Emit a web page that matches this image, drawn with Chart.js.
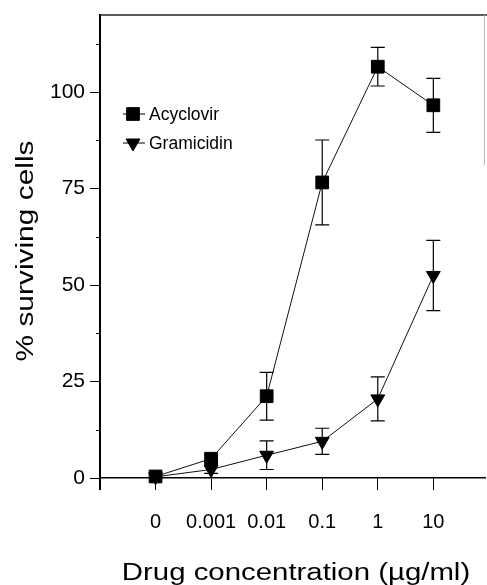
<!DOCTYPE html>
<html>
<head>
<meta charset="utf-8">
<script src="https://cdn.jsdelivr.net/npm/chart.js@4.4.1/dist/chart.umd.min.js"></script>
<style>
  html, body { margin: 0; padding: 0; background: #fff; }
  #wrap { width: 487px; height: 585px; }
</style>
</head>
<body>
<div id="wrap"><canvas id="c"></canvas></div>
<script>
// ===== data =====
const concLabels = ['0', '0.001', '0.01', '0.1', '1', '10'];
const acyclovir = [0.4, 5.0, 21.2, 76.6, 106.6, 96.6];
const acyclovirErr = [0, 1.0, 6.2, 11.0, 5.0, 7.0];
const gramicidin = [0.3, 2.2, 5.9, 9.5, 20.5, 52.5];
const gramicidinErr = [0, 1.0, 3.7, 3.4, 5.7, 9.1];
const yMajorTicks = [0, 25, 50, 75, 100];
const yMinorTicks = [12.5, 37.5, 62.5, 87.5, 112.5];
const xTickPos = [-1, 0, 1, 2, 3, 4, 5];

const FONT = "'Liberation Sans', Arial, sans-serif";
Chart.defaults.font.family = FONT;
Chart.defaults.color = '#000';

const toPoints = arr => arr.map((v, i) => ({ x: i, y: v }));

// error bars, drawn under the markers
const errorBars = {
  id: 'errorBars',
  beforeDatasetsDraw(chart) {
    const ctx = chart.ctx, ys = chart.scales.y;
    ctx.save();
    ctx.strokeStyle = '#000';
    ctx.lineWidth = 1.2;
    chart.data.datasets.forEach((ds, i) => {
      const meta = chart.getDatasetMeta(i);
      meta.data.forEach((pt, j) => {
        const e = ds.errors[j];
        if (!e) return;
        const v = ds.data[j].y;
        const yTop = ys.getPixelForValue(v + e), yBot = ys.getPixelForValue(v - e);
        ctx.beginPath();
        ctx.moveTo(pt.x, yTop); ctx.lineTo(pt.x, yBot);
        ctx.moveTo(pt.x - 7, yTop); ctx.lineTo(pt.x + 7, yTop);
        ctx.moveTo(pt.x - 7, yBot); ctx.lineTo(pt.x + 7, yBot);
        ctx.stroke();
      });
    });
    ctx.restore();
  }
};

// frame, minor ticks, legend and axis titles
const decorations = {
  id: 'decorations',
  afterDraw(chart) {
    const ctx = chart.ctx, a = chart.chartArea, ys = chart.scales.y;
    ctx.save();
    // top frame
    ctx.strokeStyle = '#222'; ctx.lineWidth = 1.5;
    ctx.beginPath(); ctx.moveTo(a.left, a.top); ctx.lineTo(chart.width, a.top); ctx.stroke();
    // faint right frame
    ctx.strokeStyle = '#bbb'; ctx.lineWidth = 1;
    ctx.beginPath(); ctx.moveTo(a.right - 0.5, a.top); ctx.lineTo(a.right - 0.5, a.top + 150); ctx.stroke();
    // y axis runs a little below the zero line
    ctx.strokeStyle = '#000'; ctx.lineWidth = 2;
    ctx.beginPath(); ctx.moveTo(a.left, a.bottom); ctx.lineTo(a.left, a.bottom + 12); ctx.stroke();
    // minor y ticks
    ctx.lineWidth = 1;
    yMinorTicks.forEach(v => {
      const y = Math.round(ys.getPixelForValue(v)) + 0.5;
      ctx.beginPath(); ctx.moveTo(a.left - 4, y); ctx.lineTo(a.left, y); ctx.stroke();
    });

    // legend
    ctx.font = '17.5px ' + FONT;
    ctx.textBaseline = 'middle';
    ctx.textAlign = 'left';
    chart.data.datasets.forEach((ds, i) => {
      const y = 114 + i * 29;
      ctx.strokeStyle = '#000'; ctx.fillStyle = '#000'; ctx.lineWidth = 1;
      ctx.beginPath(); ctx.moveTo(123, y); ctx.lineTo(145, y); ctx.stroke();
      Chart.helpers.drawPoint(ctx, {
        pointStyle: ds.pointStyle, radius: ds.pointRadius,
        rotation: ds.pointRotation || 0, borderWidth: 1
      }, 133, y);
      ctx.fillText(ds.label, 149, y + 1);
    });

    // axis titles (wide lettering as in the original)
    ctx.fillStyle = '#000';
    ctx.textBaseline = 'alphabetic';
    ctx.textAlign = 'center';
    ctx.font = '23.5px ' + FONT;
    ctx.save();
    ctx.translate(296, 580);
    ctx.scale(1.25, 1);
    ctx.fillText('Drug concentration (\u00b5g/ml)', 0, 0);
    ctx.restore();

    ctx.font = '23px ' + FONT;
    ctx.save();
    ctx.translate(33, 251);
    ctx.rotate(-Math.PI / 2);
    ctx.scale(1.3, 1);
    ctx.fillText('% surviving cells', 0, 0);
    ctx.restore();
    ctx.restore();
  }
};

new Chart(document.getElementById('c'), {
  type: 'line',
  data: {
    datasets: [
      {
        label: 'Acyclovir',
        data: toPoints(acyclovir),
        errors: acyclovirErr,
        borderColor: '#111', borderWidth: 1,
        pointStyle: 'rect', pointRadius: 9, pointBorderWidth: 1,
        pointBackgroundColor: '#000', pointBorderColor: '#000',
        clip: false
      },
      {
        label: 'Gramicidin',
        data: toPoints(gramicidin),
        errors: gramicidinErr,
        borderColor: '#111', borderWidth: 1,
        pointStyle: 'triangle', pointRotation: 180, pointRadius: 8, pointBorderWidth: 1,
        pointBackgroundColor: '#000', pointBorderColor: '#000',
        clip: false
      }
    ]
  },
  options: {
    responsive: true,
    maintainAspectRatio: false,
    animation: false,
    layout: { autoPadding: false, padding: { top: 15, right: 2, left: 0, bottom: 0 } },
    plugins: { legend: { display: false }, tooltip: { enabled: false } },
    scales: {
      x: {
        type: 'linear', min: -1, max: 5.93,
        afterBuildTicks: s => { s.ticks = xTickPos.map(v => ({ value: v })); },
        afterFit: s => { s.height = 107; s.paddingLeft = 0; s.paddingRight = 0; },
        ticks: {
          callback: v => concLabels[v] ?? '',
          font: { size: 20 }, padding: 20, maxRotation: 0, autoSkip: false
        },
        grid: { drawOnChartArea: false, tickLength: 12, color: '#000', lineWidth: 1 },
        border: { color: '#000', width: 1.5 }
      },
      y: {
        min: 0, max: 120,
        afterBuildTicks: s => { s.ticks = yMajorTicks.map(v => ({ value: v })); },
        afterFit: s => { s.width = 100; s.paddingTop = 0; s.paddingBottom = 0; },
        ticks: { font: { size: 21 }, padding: 5 },
        grid: { drawOnChartArea: false, tickLength: 10, color: '#000', lineWidth: 1 },
        border: { color: '#000', width: 2 }
      }
    }
  },
  plugins: [errorBars, decorations]
});
</script>
</body>
</html>
